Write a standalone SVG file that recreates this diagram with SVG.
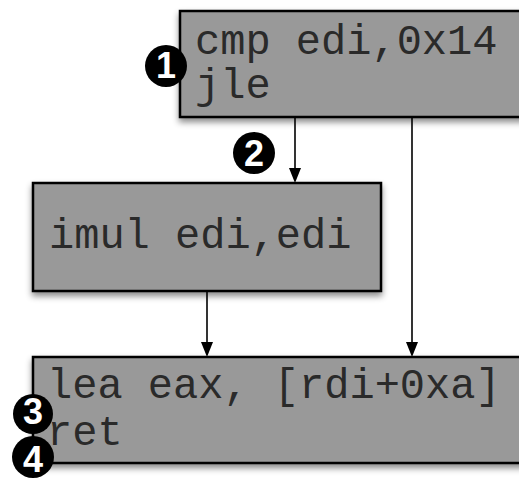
<svg xmlns="http://www.w3.org/2000/svg" width="519" height="483" viewBox="0 0 519 483">
<style>
.box{fill:#999999;stroke:#000;stroke-width:2.5;filter:url(#sh)}
.code{font-family:"Liberation Mono","Courier New",monospace;font-size:42px;fill:#2a2a2a}
.conn{stroke:#000;stroke-width:1.6;fill:none}
.head{fill:#000}
.badge circle{fill:#000}
.badge text{font-family:"Liberation Sans",Arial,sans-serif;font-size:36px;font-weight:bold;fill:#fff;text-anchor:middle}
</style>
<defs>
<filter id="sh" x="-10%" y="-10%" width="130%" height="140%">
<feDropShadow dx="0" dy="4" stdDeviation="3" flood-color="#000" flood-opacity="0.45"/>
</filter>
</defs>
<g id="connectors">
<line class="conn" x1="295" y1="118" x2="295" y2="169"/>
<path class="head" d="M289,168 L301,168 L295,183 Z"/>
<line class="conn" x1="412" y1="118" x2="412" y2="343"/>
<path class="head" d="M406,342 L418,342 L412,357 Z"/>
<line class="conn" x1="207" y1="292" x2="207" y2="343"/>
<path class="head" d="M201,342 L213,342 L207,357 Z"/>
</g>
<g id="node1">
<rect class="box" x="180" y="11" width="360" height="106"/>
<text class="code" x="195" y="54">cmp edi,0x14</text>
<text class="code" x="195" y="98">jle</text>
</g>
<g id="node2">
<rect class="box" x="33" y="183" width="348" height="108"/>
<text class="code" x="49" y="248">imul edi,edi</text>
</g>
<g id="node3">
<rect class="box" x="33" y="357" width="507" height="106"/>
<text class="code" x="47" y="398">lea eax, [rdi+0xa]</text>
<text class="code" x="47" y="445">ret</text>
</g>
<g id="badge1" class="badge"><circle cx="166" cy="66" r="21"/><text x="166" y="78">1</text></g>
<g id="badge2" class="badge"><circle cx="254" cy="153" r="21"/><text x="254" y="166">2</text></g>
<g id="badge3" class="badge"><circle cx="33" cy="414" r="20"/><text x="33" y="424">3</text></g>
<g id="badge4" class="badge"><circle cx="33" cy="457" r="21"/><text x="33" y="472">4</text></g>
</svg>
